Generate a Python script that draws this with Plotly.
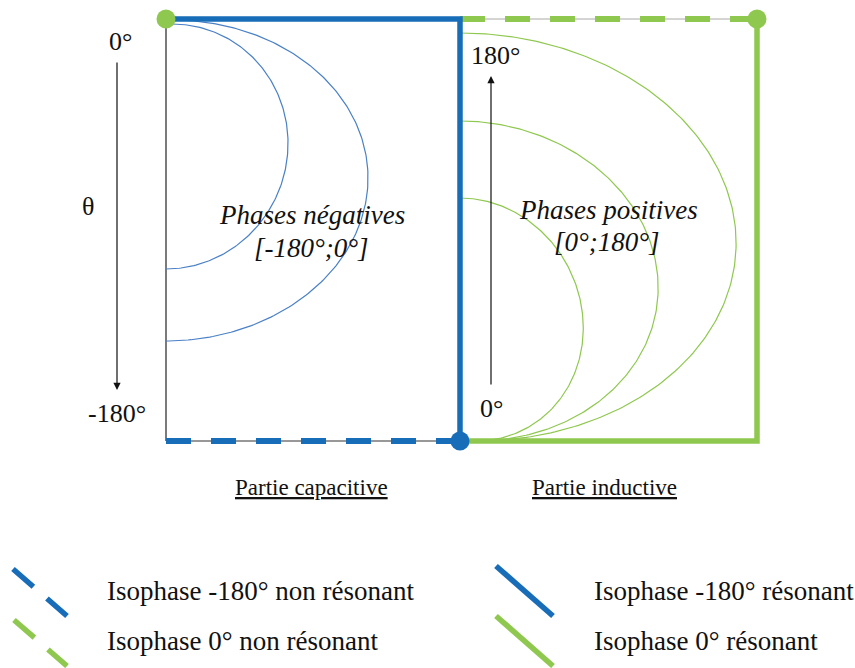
import numpy as np
import plotly.graph_objects as go

# ---------------- diagram values ----------------
# Frame of the diagram (diagram units, y grows downward)
frame_left_x = [166]
frame_mid_x = [460]
frame_right_x = [757]
frame_top_y = [19]
frame_bottom_y = [441]

# Negative-phase (capacitive) isophase arcs: top y, bottom y, rightmost x
neg_arc_top_y = [24, 20]
neg_arc_bottom_y = [269, 341]
neg_arc_right_x = [288, 368]
neg_arc_top_x = [172, 172]

# Positive-phase (inductive) isophase arcs: top y, rightmost x
pos_arc_top_y = [198, 121, 33]
pos_arc_right_x = [583, 658, 736]
pos_arc_bottom_x = [476, 476, 476]

# Texts
angle_labels_left = ["0°", "θ", "-180°"]
angle_labels_right = ["180°", "0°"]
region_titles = ["Phases négatives", "[-180°;0°]", "Phases positives", "[0°;180°]"]
part_labels = ["Partie capacitive", "Partie inductive"]
legend_labels = [
    "Isophase -180° non résonant",
    "Isophase 0° non résonant",
    "Isophase -180° résonant",
    "Isophase 0° résonant",
]

# ---------------- styles ----------------
BLUE = "#186DB9"
GREEN = "#8FC84F"
ARC_BLUE = "#4A80C6"
FONT = "Liberation Serif, Times New Roman, serif"
W, H = 855, 668

fig = go.Figure()


def line(xs, ys, color, width, dash="solid"):
    fig.add_trace(go.Scatter(x=xs, y=ys, mode="lines",
                             line=dict(color=color, width=width, dash=dash),
                             hoverinfo="skip", showlegend=False))


def half_ellipse(x_top, x_bot, y_top, y_bot, x_right, color):
    t = np.linspace(0, np.pi, 200)
    y = y_top + (y_bot - y_top) * (1 - np.cos(t)) / 2
    xm = (x_top + x_bot) / 2
    x = x_top + (x_bot - x_top) * (1 - np.cos(t)) / 2 + (x_right - xm) * np.sin(t)
    line(x, y, color, 1.2)


L, M, R = frame_left_x[0], frame_mid_x[0], frame_right_x[0]
T, B = frame_top_y[0], frame_bottom_y[0]

# thin guide lines
line([L, L], [T, B], "#222222", 1.2)
line([L, M], [B, B], "#333333", 1.2)
line([M, R], [T, T], "#AAAAAA", 1.2)

# arcs
for yt, yb, xr, xt in zip(neg_arc_top_y, neg_arc_bottom_y, neg_arc_right_x, neg_arc_top_x):
    half_ellipse(xt, L, yt, yb, xr, ARC_BLUE)
for yt, xr, xb in zip(pos_arc_top_y, pos_arc_right_x, pos_arc_bottom_x):
    half_ellipse(M, xb, yt, B, xr, GREEN)

# thick isophase lines
line([L, M], [B, B], BLUE, 6, "25px,20px")
line([M, R], [T, T], GREEN, 6, "25px,20px")
line([L, M, M], [T, T, B], BLUE, 5.5)
line([M, R, R], [B, B, T], GREEN, 5.5)

# end points
fig.add_trace(go.Scatter(x=[L, R], y=[T, T], mode="markers",
                         marker=dict(color=GREEN, size=19, line=dict(width=0)),
                         hoverinfo="skip", showlegend=False))
fig.add_trace(go.Scatter(x=[M], y=[B], mode="markers",
                         marker=dict(color=BLUE, size=19, line=dict(width=0)),
                         hoverinfo="skip", showlegend=False))

# legend symbols
line([13, 67], [569, 616], BLUE, 5.5, "27px,18px")
line([14, 67], [620, 666], GREEN, 5.5, "27px,18px")
line([496, 553], [566, 616], BLUE, 5.5)
line([496, 553], [616, 666], GREEN, 5.5)

annotations = []


def txt(x, y, s, size, xanchor="center", italic=False):
    if italic:
        s = "<i>" + s + "</i>"
    annotations.append(dict(x=x, y=y, xref="x", yref="y", text=s, showarrow=False,
                            xanchor=xanchor, yanchor="middle",
                            font=dict(family=FONT, size=size, color="#111111")))


# angle labels
txt(120, 41, angle_labels_left[0], 26)
txt(88, 206, angle_labels_left[1], 26)
txt(117, 413, angle_labels_left[2], 26)
txt(495, 55, angle_labels_right[0], 26)
txt(491, 408, angle_labels_right[1], 26)

# arrows
annotations.append(dict(x=117, y=390, ax=117, ay=61, xref="x", yref="y", axref="x", ayref="y",
                        text="", showarrow=True, arrowhead=2, arrowsize=1.2, arrowwidth=1.2,
                        arrowcolor="#111111"))
annotations.append(dict(x=491, y=76, ax=491, ay=386, xref="x", yref="y", axref="x", ayref="y",
                        text="", showarrow=True, arrowhead=2, arrowsize=1.2, arrowwidth=1.2,
                        arrowcolor="#111111"))

# region titles
txt(312, 215, region_titles[0], 27, italic=True)
txt(311, 248, region_titles[1], 27, italic=True)
txt(608, 210, region_titles[2], 27, italic=True)
txt(607, 242, region_titles[3], 27, italic=True)

# part labels
txt(311, 487, "<u>" + part_labels[0] + "</u>", 23)
txt(604, 487, "<u>" + part_labels[1] + "</u>", 23)

# legend labels
txt(105, 591, legend_labels[0], 27, xanchor="left")
txt(105, 641, legend_labels[1], 27, xanchor="left")
txt(592, 591, legend_labels[2], 27, xanchor="left")
txt(592, 641, legend_labels[3], 27, xanchor="left")

fig.update_layout(
    width=W, height=H,
    margin=dict(l=0, r=0, t=0, b=0),
    paper_bgcolor="white", plot_bgcolor="white",
    xaxis=dict(range=[0, W], visible=False, fixedrange=True),
    yaxis=dict(range=[H, 0], visible=False, fixedrange=True),
    annotations=annotations,
    showlegend=False,
)

fig.write_html("out.html", config={"displayModeBar": False},
               post_script="document.body.style.margin='0';document.body.style.overflow='hidden';")
